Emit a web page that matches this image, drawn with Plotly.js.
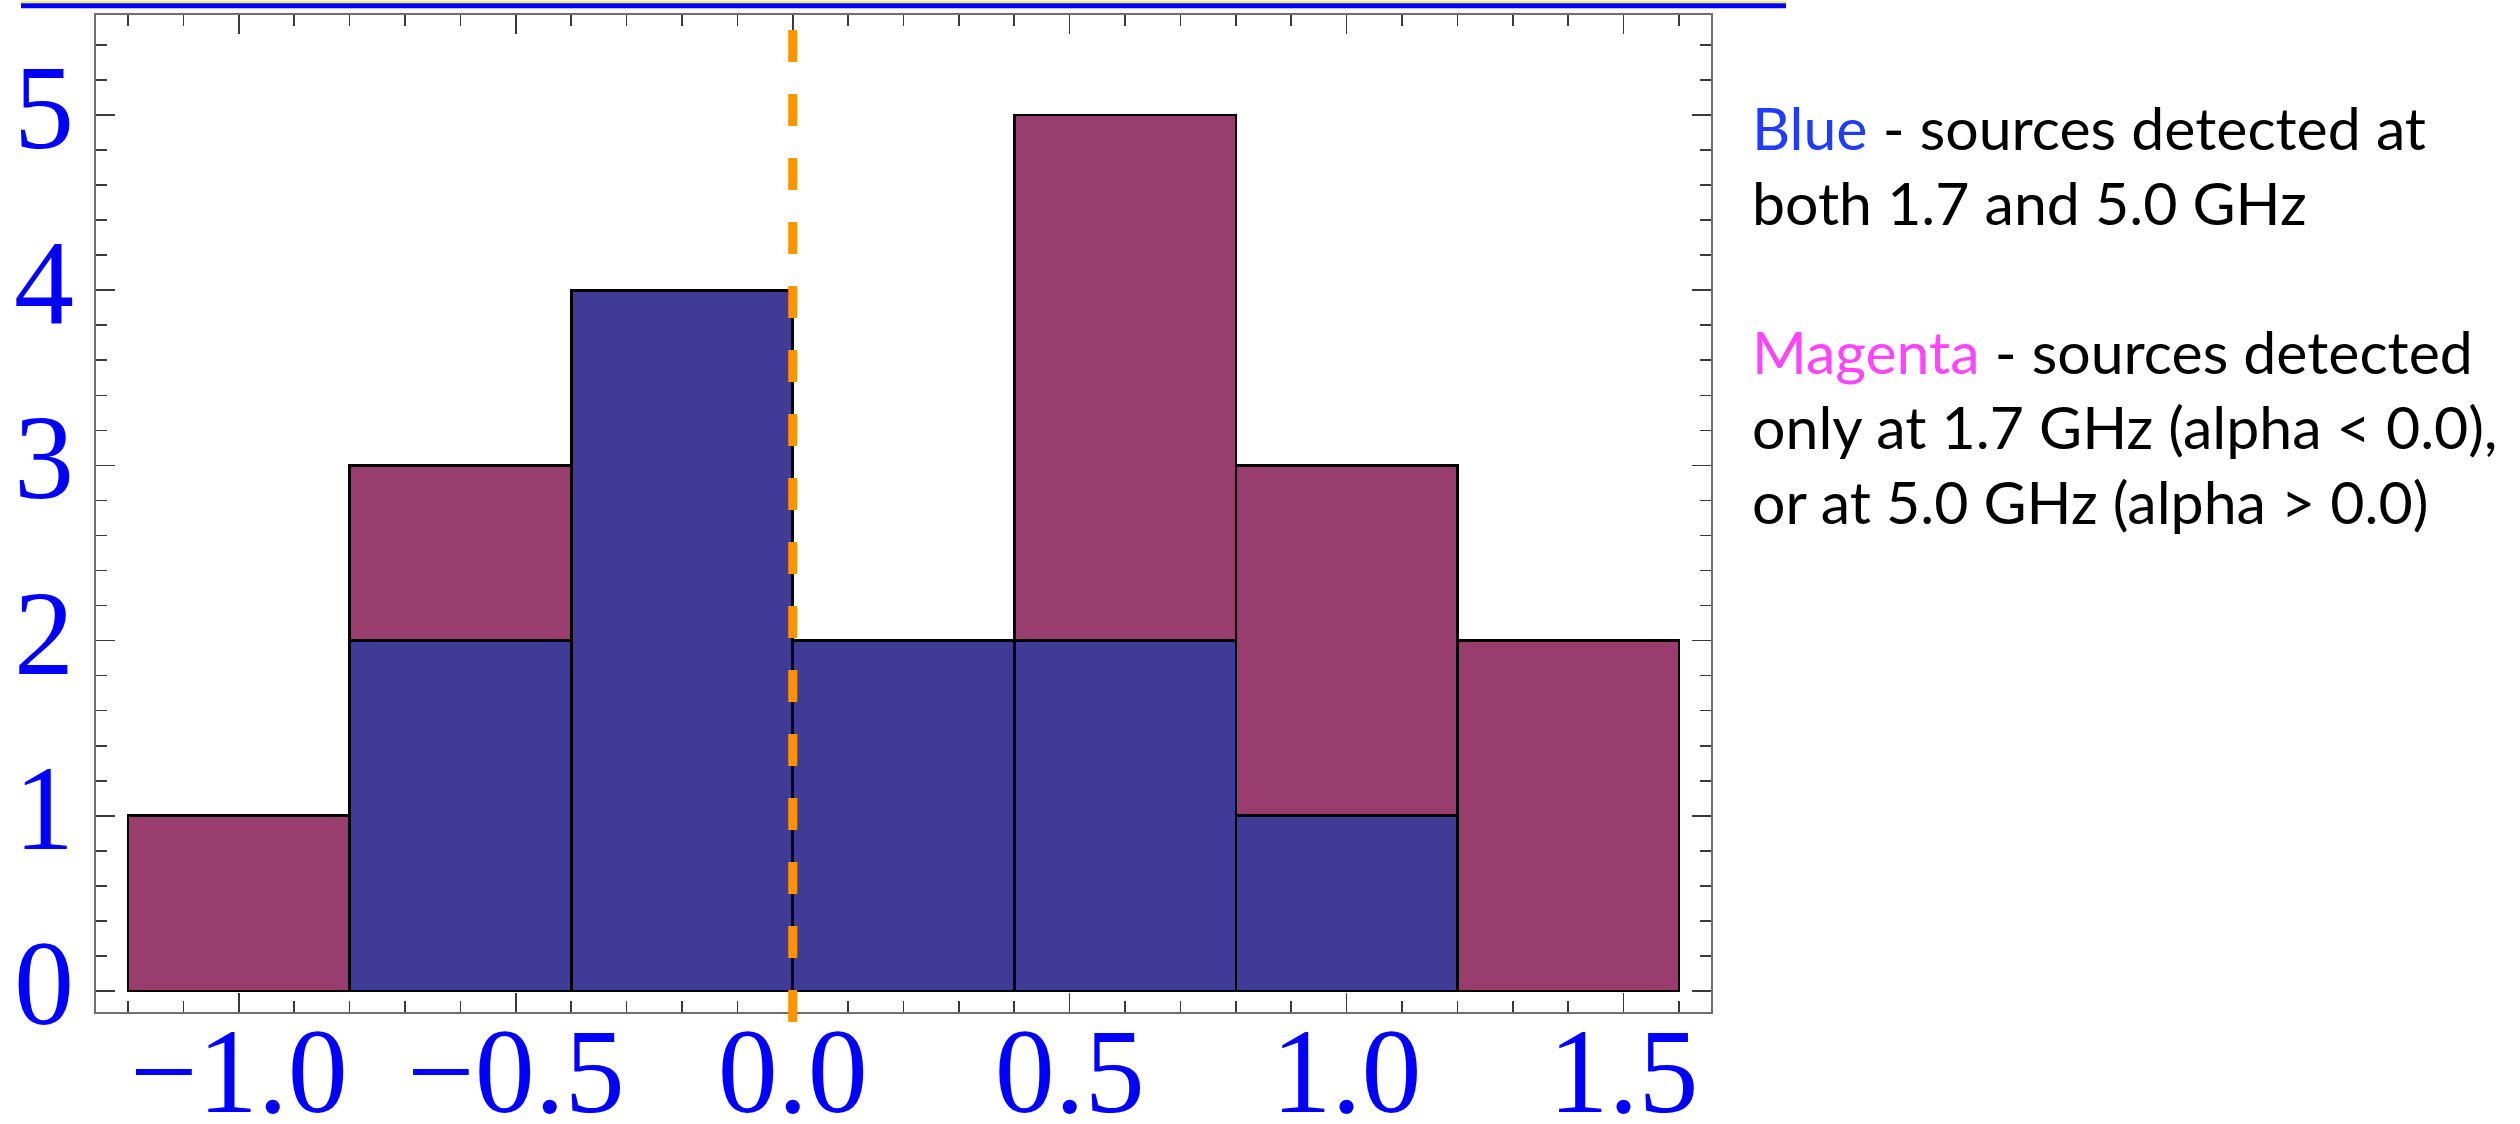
<!DOCTYPE html>
<html>
<head>
<meta charset="utf-8">
<script src="https://cdn.plot.ly/plotly-3.0.1.min.js"></script>
<style>
  html, body { margin: 0; padding: 0; background: #ffffff; }
  #chart { width: 2520px; height: 1124px; }
</style>
</head>
<body>
<div id="chart"></div>
<script>
// Spectral index (alpha) histogram, bins of width 0.4
const BIN_EDGES = [-1.2, -0.8, -0.4, 0.0, 0.4, 0.8, 1.2, 1.6];
// sources detected at both 1.7 and 5.0 GHz
const COUNTS_BOTH = [0, 2, 4, 2, 2, 1, 0];
// sources detected at only one of the two frequencies
const COUNTS_SINGLE = [1, 1, 0, 0, 3, 2, 2];

const X_TICKS = [-1.0, -0.5, 0.0, 0.5, 1.0, 1.5];
const X_TICK_TEXT = ['\u22121.0', '\u22120.5', '0.0', '0.5', '1.0', '1.5'];
const Y_TICKS = [0, 1, 2, 3, 4, 5];
const Y_TICK_TEXT = ['0', '1', '2', '3', '4', '5'];

const ALPHA_SPLIT = 0.0;          // dashed marker line
const X_RANGE = [-1.258, 1.658];
const Y_RANGE = [-0.12, 5.571];

const LEGEND_LINES = [
  '<span style="color:#1f3dff">Blue</span> - sources detected at',
  'both 1.7 and 5.0 GHz',
  '',
  '<span style="color:#ff45ff">Magenta</span> - sources detected',
  'only at 1.7 GHz (alpha &lt; 0.0),',
  'or at 5.0 GHz (alpha &gt; 0.0)'
];

// page geometry
const W = 2520, H = 1124;
const M = { l: 96, r: 809, t: 15, b: 112 };
const plotH = H - M.t - M.b;
const plotW = W - M.l - M.r;
const pyFromPx = px => (H - M.b - px) / plotH;
const pxFromPxX = px => (px - M.l) / plotW;

const centers = BIN_EDGES.slice(0, -1).map((e, i) => (e + BIN_EDGES[i + 1]) / 2);
const widths = BIN_EDGES.slice(0, -1).map((e, i) => BIN_EDGES[i + 1] - e);
const nz = arr => arr.map(v => (v === 0 ? null : v));

const barLine = { color: '#000000', width: 2.6 };

const traces = [
  {
    type: 'bar', x: centers, y: nz(COUNTS_BOTH), width: widths,
    marker: { color: '#403b97', line: barLine },
    hoverinfo: 'skip', showlegend: false
  },
  {
    type: 'bar', x: centers, y: nz(COUNTS_SINGLE), width: widths,
    marker: { color: '#983d6e', line: barLine },
    hoverinfo: 'skip', showlegend: false
  }
];

const tickStyle = { ticks: 'inside', tickcolor: '#3a3a3a', tickwidth: 1.6 };

const splitFrac = (ALPHA_SPLIT - X_RANGE[0]) / (X_RANGE[1] - X_RANGE[0]);

const layout = {
  width: W, height: H,
  margin: M,
  paper_bgcolor: '#ffffff', plot_bgcolor: '#ffffff',
  barmode: 'stack', bargap: 0,
  xaxis: Object.assign({
    range: X_RANGE, showgrid: false, zeroline: false,
    showline: true, linecolor: '#6e6e6e', linewidth: 2, mirror: 'allticks',
    ticklen: 19, tickmode: 'array', tickvals: X_TICKS, ticktext: X_TICK_TEXT,
    tickfont: { family: 'Liberation Serif', size: 120, color: '#0000ff' },
    ticklabelstandoff: -46,
    minor: { tickmode: 'linear', tick0: 0, dtick: 0.1, ticks: 'inside', ticklen: 11,
             tickcolor: '#3a3a3a', tickwidth: 1.6, showgrid: false }
  }, tickStyle),
  yaxis: Object.assign({
    range: Y_RANGE, showgrid: false, zeroline: false,
    showline: true, linecolor: '#6e6e6e', linewidth: 2, mirror: 'allticks',
    ticklen: 19, tickmode: 'array', tickvals: Y_TICKS, ticktext: Y_TICK_TEXT,
    tickfont: { family: 'Liberation Serif', size: 120, color: '#0000ff' },
    ticklabelstandoff: -4, ticklabelshift: -9,
    minor: { tickmode: 'linear', tick0: 0, dtick: 0.2, ticks: 'inside', ticklen: 11,
             tickcolor: '#3a3a3a', tickwidth: 1.6, showgrid: false }
  }, tickStyle),
  shapes: [
    // heading rule across the top
    { type: 'line', xref: 'paper', yref: 'paper',
      x0: pxFromPxX(21), x1: pxFromPxX(1786), y0: pyFromPx(2), y1: pyFromPx(2),
      line: { color: '#f2ec74', width: 2 } },
    { type: 'line', xref: 'paper', yref: 'paper',
      x0: pxFromPxX(21), x1: pxFromPxX(1786), y0: pyFromPx(5.7), y1: pyFromPx(5.7),
      line: { color: '#0000ff', width: 5 } },
    // dashed line at alpha = 0
    { type: 'line', xref: 'x domain', yref: 'paper', layer: 'above',
      x0: splitFrac, x1: splitFrac, y0: pyFromPx(30), y1: pyFromPx(1022),
      line: { color: '#ff9400', width: 9, dash: '32px,32px' } }
  ],
  annotations: LEGEND_LINES.map((txt, i) => ({
    xref: 'paper', yref: 'paper', x: pxFromPxX(1750), xanchor: 'left',
    y: pyFromPx(127 + 75 * i), yanchor: 'middle',
    text: txt, showarrow: false, align: 'left',
    font: { family: 'Lato', size: 59, color: '#000000' }
  })).filter(a => a.text !== '')
};

Plotly.newPlot('chart', traces, layout, { displayModeBar: false, staticPlot: true });
</script>
</body>
</html>
